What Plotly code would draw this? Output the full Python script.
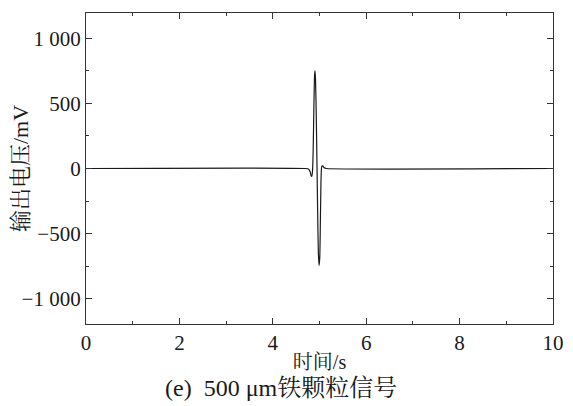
import plotly.graph_objects as go

# signal: time (s) vs output voltage (mV)
t_s = [0, 4.70, 4.77, 4.80, 4.82, 4.835, 4.85, 4.865, 4.88, 4.895, 4.905, 4.915,
       4.93, 4.945, 4.96, 4.975, 4.99, 5.005, 5.02, 5.035, 5.05, 5.07, 5.10, 5.15, 10]
v_mv = [0, 0, -5, -25, -55, -60, -20, 150, 480, 720, 750, 680,
        420, 60, -320, -640, -745, -690, -380, -60, 18, 20, 5, 0, 0]

y_ticks = [-1000, -500, 0, 500, 1000]
y_text = ["\u22121 000", "\u2212500", "0", "500", "1 000"]
x_ticks = [0, 2, 4, 6, 8, 10]

FONT = '"Liberation Serif", "Noto Serif CJK SC", "Noto Sans CJK SC", serif'

fig = go.Figure(go.Scatter(
    x=t_s, y=v_mv, mode="lines",
    line=dict(color="#1a1a1a", width=1.2, shape="spline", smoothing=0.6),
    showlegend=False,
))

axis_common = dict(
    showline=True, linecolor="#333333", linewidth=1.2, mirror="ticks",
    ticks="inside", ticklen=6, tickwidth=1.2, tickcolor="#333333",
    showgrid=False, zeroline=False, automargin=False,
    tickfont=dict(family=FONT, size=21, color="#1a1a1a"),
)

fig.update_xaxes(
    range=[0, 10], tickvals=x_ticks,
    minor=dict(ticks="inside", ticklen=3, tickwidth=1, dtick=1, tickcolor="#333333"),
    title=dict(text="时间/s", font=dict(family=FONT, size=20, color="#1a1a1a"), standoff=0),
    **axis_common,
)
fig.update_yaxes(
    range=[-1195, 1195], tickvals=y_ticks, ticktext=y_text,
    minor=dict(ticks="inside", ticklen=3, tickwidth=1, dtick=250, tickcolor="#333333"),
    title=dict(text="输出电压/mV", font=dict(family=FONT, size=22, color="#1a1a1a"), standoff=6),
    **axis_common,
)

fig.add_annotation(
    text="(e)  500 μm铁颗粒信号", xref="paper", yref="paper",
    x=(281 - 86) / 467, y=-0.205, xanchor="center", yanchor="middle",
    showarrow=False, font=dict(family=FONT, size=24, color="#1a1a1a"),
)

# page body has an 8px margin, so the figure is shrunk to keep the plot box in place
fig.update_layout(
    width=565, height=398,
    margin=dict(l=78, r=20, t=5, b=82),
    paper_bgcolor="white", plot_bgcolor="white",
)

fig.write_html("out.html")
